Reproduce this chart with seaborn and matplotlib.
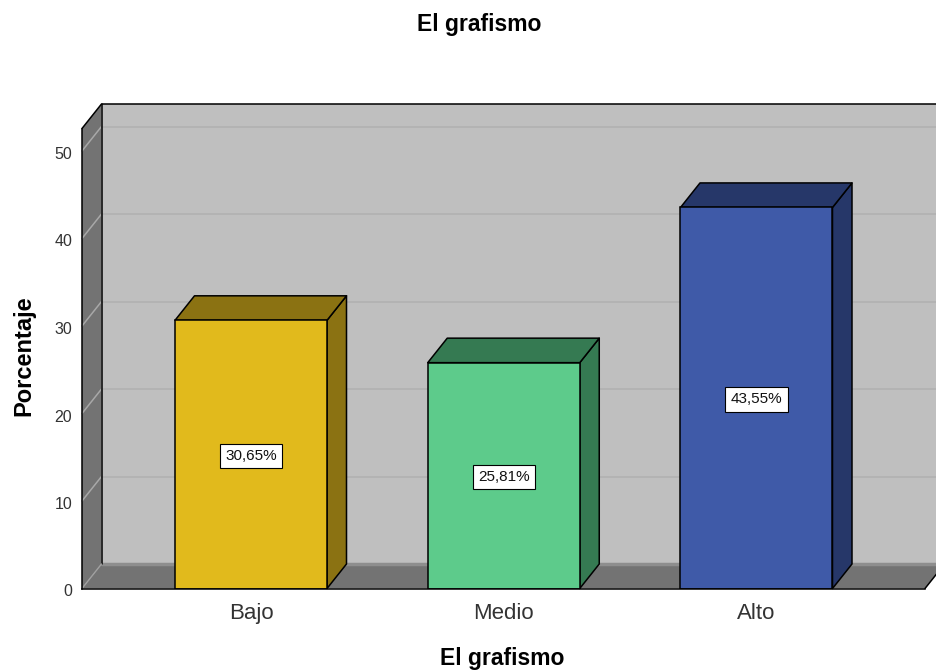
import matplotlib

matplotlib.use("Agg")
import matplotlib.pyplot as plt
import matplotlib.transforms as mtransforms
import pandas as pd
import seaborn as sns

categories = ["Bajo", "Medio", "Alto"]
percentages = [30.65, 25.81, 43.55]
y_ticks = [0, 10, 20, 30, 40, 50]

front_colors = ["#E1BA1C", "#5DCB8B", "#3F5AA8"]
side_colors = ["#8B7212", "#357A52", "#263769"]

WALL = "#BFBFBF"
SHADE = "#737373"
GRID = "#B0B0B0"

# pixel layout of the front plane
W, H = 937, 672
LEFT, RIGHT, BOTTOM, TOP = 82, 925, 588.5, 128.5
PX_PER_CAT = 252.75
PX_PER_UNIT = 8.75
DEPTH_PX_X, DEPTH_PX_Y = 19.5, 24.5

sns.set_style("white")
plt.rcParams["font.family"] = ["Liberation Sans", "DejaVu Sans"]

fig = plt.figure(figsize=(W / 100, H / 100), dpi=100)
ax = fig.add_axes(
    [LEFT / W, 1 - BOTTOM / H, (RIGHT - LEFT) / W, (BOTTOM - TOP) / H]
)

df = pd.DataFrame({"nivel": categories, "pct": percentages})
sns.barplot(
    df,
    x="nivel",
    y="pct",
    hue="nivel",
    palette=front_colors,
    saturation=1,
    width=152 / PX_PER_CAT,
    edgecolor="black",
    linewidth=1.1,
    legend=False,
    zorder=4,
    ax=ax,
)

x0 = (LEFT - 251) / PX_PER_CAT
x1 = x0 + (RIGHT - LEFT) / PX_PER_CAT
y1 = (BOTTOM - TOP) / PX_PER_UNIT
dx = DEPTH_PX_X / PX_PER_CAT
dy = DEPTH_PX_Y / PX_PER_UNIT
ax.set_xlim(x0, x1)
ax.set_ylim(0, y1)


def face(xs, ys, color, z, edge="none"):
    ax.fill(xs, ys, facecolor=color, edgecolor=edge, lw=1.1, zorder=z,
            clip_on=False, joinstyle="round")


# box walls, going past the right side of the picture
face([x0 + dx, x1 + dx, x1 + dx, x0 + dx], [dy, dy, y1 + dy, y1 + dy], WALL, 0.5)
face([x0, x0 + dx, x0 + dx, x0], [0, dy, y1 + dy, y1], SHADE, 0.6)
face([x0, x1, x1 + dx, x0 + dx], [0, 0, dy, dy], SHADE, 0.6)
ax.plot([x0 + dx, x1 + dx], [dy, dy], color="#8E8E8E", lw=2.5, zorder=0.7, clip_on=False)

for t in y_ticks[1:]:
    ax.plot([x0 + dx, x1 + dx], [t + dy, t + dy], color=GRID, lw=1.1, zorder=0.7, clip_on=False)
    ax.plot([x0, x0 + dx], [t, t + dy], color="#A8A8A8", lw=1.1, zorder=0.7, clip_on=False)

ax.plot([x0, x0 + dx, x1 + dx], [y1, y1 + dy, y1 + dy], color="black", lw=1.1, zorder=1, clip_on=False)
ax.plot([x0 + dx, x0 + dx], [dy, y1 + dy], color="black", lw=1.1, zorder=1, clip_on=False)
ax.plot([x1, x1 + dx], [0, dy], color="black", lw=1.1, zorder=1, clip_on=False)
ax.plot([x0, x0 + dx], [0, dy], color="#A0A0A0", lw=1, zorder=1, clip_on=False)

# side and top faces of the bars, taken from the bars seaborn drew
for bar, side, value in zip(ax.patches, side_colors, percentages):
    l, r = bar.get_x(), bar.get_x() + bar.get_width()
    h = bar.get_height()
    face([r, r + dx, r + dx, r], [0, dy, h + dy, h], side, 3, edge="black")
    face([l, r, r + dx, l + dx], [h, h, h + dy, h + dy], side, 3, edge="black")
    ax.text(
        (l + r) / 2,
        h / 2,
        f"{value:.2f}%".replace(".", ","),
        ha="center",
        va="center_baseline",
        fontsize=11,
        color="#111111",
        zorder=6,
        bbox=dict(boxstyle="square,pad=0.35", fc="white", ec="black", lw=0.8),
    )

sns.despine(ax=ax, top=True, right=True)
for side in ["left", "bottom"]:
    ax.spines[side].set_color("black")
    ax.spines[side].set_linewidth(1.1)
    ax.spines[side].set_zorder(5)

ax.set_yticks(y_ticks)
ax.tick_params(axis="y", length=0, pad=7, labelsize=11.5, labelcolor="#333333")
ax.tick_params(axis="x", length=0, pad=10.5, labelsize=16, labelcolor="#333333")
# the y labels sit a little under their gridline ends
nudge = mtransforms.ScaledTranslation(0, -2 / 100, fig.dpi_scale_trans)
for lab in ax.get_yticklabels():
    lab.set_transform(lab.get_transform() + nudge)
ax.set_xlabel("")
ax.set_ylabel("")

fig.suptitle("El grafismo", x=479 / W, y=1 - 25 / H, va="center",
             fontsize=16.5, fontweight="bold", color="black")
fig.supxlabel("El grafismo", x=502 / W, y=1 - 659 / H, va="center",
              fontsize=16.5, fontweight="bold", color="black")
fig.supylabel("Porcentaje", x=24 / W, y=1 - 356 / H, ha="center", va="center",
              fontsize=17, fontweight="bold", color="black")

fig.savefig("out.png", dpi=100)
plt.close(fig)
